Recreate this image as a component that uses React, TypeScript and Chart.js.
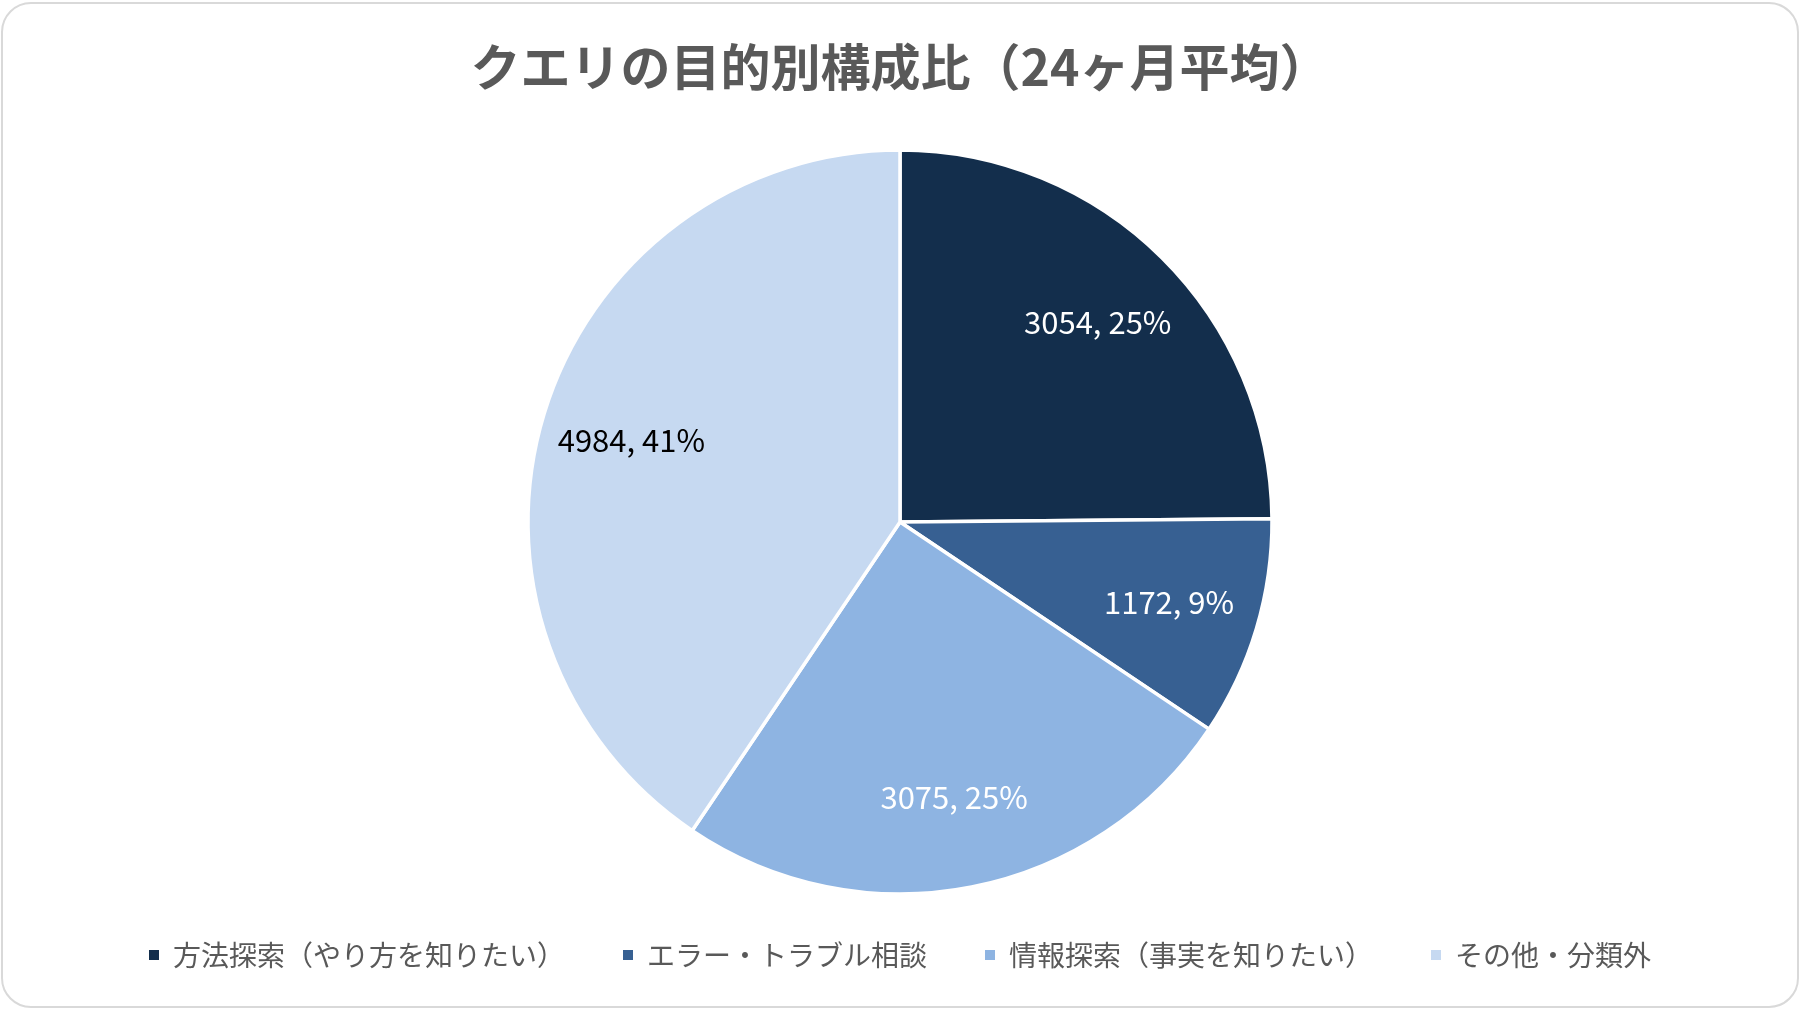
import React, { useEffect, useRef } from "react";
import { Chart, registerables } from "chart.js";

Chart.register(...registerables);

const titleText = "クエリの目的別構成比（24ヶ月平均）";
const categories = [
  "方法探索（やり方を知りたい）",
  "エラー・トラブル相談",
  "情報探索（事実を知りたい）",
  "その他・分類外",
];
const values = [3054, 1172, 3075, 4984];
const percentLabels = [25, 9, 25, 41];
const sliceColors = ["#132E4C", "#376092", "#8EB4E2", "#C6D9F1"];
const labelColors = ["#FFFFFF", "#FFFFFF", "#FFFFFF", "#000000"];

const FONT = '"Noto Sans CJK JP", "Noto Sans", sans-serif';

const dataLabelPlugin = {
  id: "sliceLabels",
  afterDatasetsDraw(chart: any) {
    const ctx = chart.ctx;
    const meta = chart.getDatasetMeta(0);
    ctx.save();
    ctx.font = `31px ${FONT}`;
    ctx.textAlign = "center";
    ctx.textBaseline = "middle";
    meta.data.forEach((arc: any, i: number) => {
      const { x, y, startAngle, endAngle, outerRadius } = arc.getProps(
        ["x", "y", "startAngle", "endAngle", "outerRadius"],
        true
      );
      const mid = (startAngle + endAngle) / 2;
      const r = outerRadius * 0.755;
      ctx.fillStyle = labelColors[i];
      ctx.fillText(
        `${values[i]}, ${percentLabels[i]}%`,
        x + Math.cos(mid) * r,
        y + Math.sin(mid) * r
      );
    });
    ctx.restore();
  },
};

export default function App() {
  const canvasRef = useRef<HTMLCanvasElement | null>(null);

  useEffect(() => {
    if (!canvasRef.current) return;
    const chart = new Chart(canvasRef.current, {
      type: "pie",
      data: {
        labels: categories,
        datasets: [
          {
            data: values,
            backgroundColor: sliceColors,
            borderColor: "#FFFFFF",
            borderWidth: 3.5,
            radius: 372,
          } as any,
        ],
      },
      options: {
        animation: false,
        responsive: false,
        maintainAspectRatio: false,
        layout: { padding: { top: 0, bottom: 30, left: 0, right: 0 } },
        plugins: {
          title: {
            display: true,
            text: titleText,
            color: "#595959",
            font: { family: FONT, size: 50, weight: "bold" },
            padding: { top: 37, bottom: 64 },
          },
          legend: {
            display: true,
            position: "bottom",
            labels: {
              color: "#595959",
              font: { family: FONT, size: 28 },
              boxWidth: 10,
              boxHeight: 10,
              padding: 58,
              generateLabels: (chart: any) => {
                const base =
                  Chart.overrides.pie.plugins.legend.labels.generateLabels(chart);
                return base.map((item: any) => ({
                  ...item,
                  lineWidth: 0,
                  strokeStyle: "rgba(0,0,0,0)",
                }));
              },
            },
          },
          tooltip: { enabled: false },
        },
      },
      plugins: [dataLabelPlugin],
    });
    return () => chart.destroy();
  }, []);

  return (
    <div
      style={{
        position: "absolute",
        left: 0,
        top: 0,
        width: 1800,
        height: 1009,
        background: "#FFFFFF",
      }}
    >
      <div
        style={{
          position: "absolute",
          left: 1,
          top: 2,
          width: 1794,
          height: 1002,
          border: "2px solid #D9D9D9",
          borderRadius: 30,
        }}
      />
      <canvas
        ref={canvasRef}
        width={1800}
        height={1009}
        style={{ position: "absolute", left: 0, top: 0, width: 1800, height: 1009 }}
      />
    </div>
  );
}
